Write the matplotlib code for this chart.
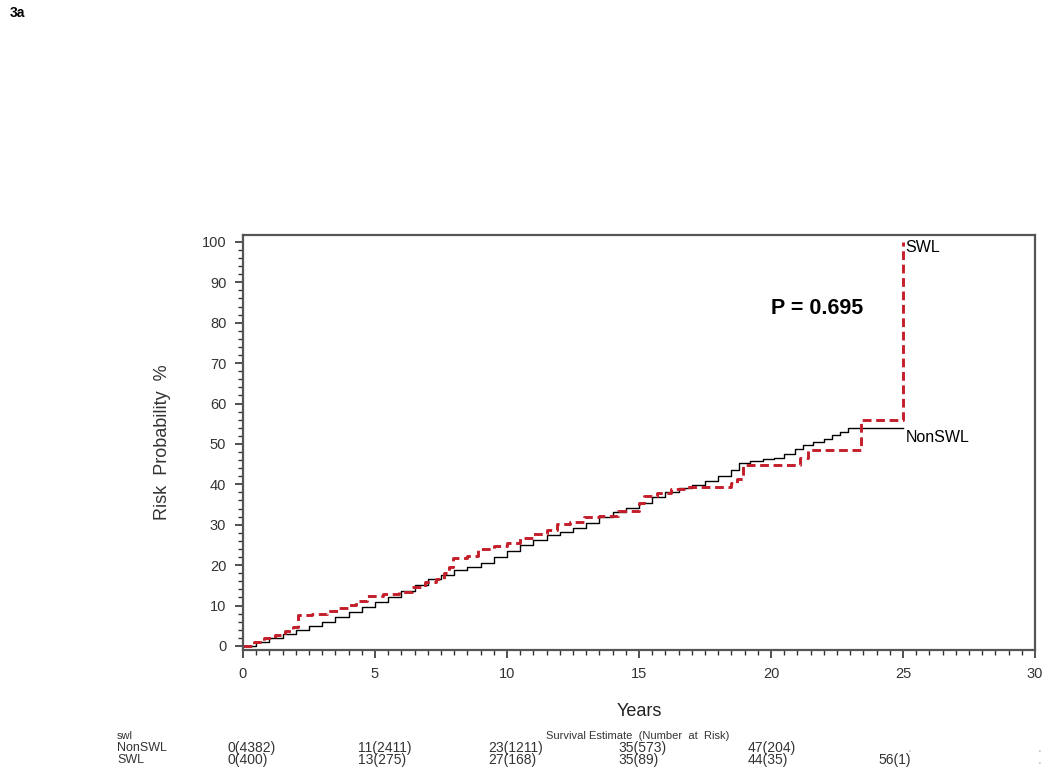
import matplotlib.pyplot as plt
import numpy as np
from matplotlib.ticker import MultipleLocator

plt.rcParams['font.family'] = ['Liberation Sans', 'DejaVu Sans']

# cumulative risk (%)
nonswl_t = [0, 0.5, 1.0, 1.5, 2.0, 2.5, 3.0, 3.5, 4.0, 4.5, 5.0, 5.5, 6.0, 6.5, 7.0, 7.5,
            8.0, 8.5, 9.0, 9.5, 10.0, 10.5, 11.0, 11.5, 12.0, 12.5, 13.0, 13.5, 14.0,
            14.5, 15.0, 15.5, 16.0, 16.5, 17.0, 17.5, 18.0, 18.5, 18.8, 19.2, 19.7,
            20.1, 20.5, 20.9, 21.2, 21.6, 22.0, 22.3, 22.6, 22.9, 25]
nonswl_r = [0, 1.0, 2.0, 3.0, 4.0, 4.9, 6.0, 7.2, 8.4, 9.6, 11.0, 12.0, 13.5, 15.2, 16.5,
            17.5, 18.8, 19.5, 20.5, 22.0, 23.5, 25.0, 26.3, 27.4, 28.2, 29.3, 30.5, 31.8,
            33.2, 34.2, 35.3, 36.8, 38.2, 39.0, 39.8, 40.8, 42.0, 43.5, 45.2, 45.8, 46.2,
            46.6, 47.5, 48.7, 49.8, 50.5, 51.3, 52.2, 53.0, 54.0, 54.0]

swl_t = [0, 0.4, 0.8, 1.2, 1.6, 1.9, 2.1, 2.6, 3.2, 3.6, 4.0, 4.3, 4.7, 5.3, 5.9, 6.4,
         6.9, 7.3, 7.6, 7.8, 7.96, 8.5, 8.9, 9.5, 10.0, 10.5, 11.0, 11.5, 11.9, 12.4,
         12.9, 13.5, 14.2, 15.0, 15.2, 15.7, 16.2, 16.7, 18.2, 18.5, 18.7, 18.94, 20.8,
         21.1, 21.4, 23.4, 25]
swl_r = [0, 1.0, 2.0, 2.8, 3.6, 4.7, 7.6, 8.0, 8.6, 9.4, 10.2, 11.2, 12.4, 12.8, 13.4,
         14.6, 15.8, 16.5, 18.0, 19.5, 21.8, 22.2, 24.0, 24.8, 25.6, 26.6, 27.6, 28.8,
         30.2, 30.8, 31.8, 32.2, 33.4, 35.5, 37.0, 37.8, 38.8, 39.4, 39.4, 40.3, 41.2,
         44.8, 44.8, 46.5, 48.5, 56.0, 100]

# number at risk table
table_groups = ['NonSWL', 'SWL']
nonswl_table = ['0(4382)', '11(2411)', '23(1211)', '35(573)', '47(204)', '.', '.']
swl_table = ['0(400)', '13(275)', '27(168)', '35(89)', '44(35)', '56(1)', '.']

fig = plt.figure(figsize=(10.5, 7.79), dpi=100)
ax = fig.add_axes([0.2314, 0.1656, 0.7543, 0.5327])

ax.plot(nonswl_t, nonswl_r, drawstyle='steps-post', color='black', lw=1.0)
ax.plot(swl_t, swl_r, drawstyle='steps-post', color='#c41e2a', lw=2.1,
        dashes=(3, 1.6))

ax.set_xlim(0, 30)
ax.set_ylim(-1, 101.7)
ax.xaxis.set_major_locator(MultipleLocator(5))
ax.xaxis.set_minor_locator(MultipleLocator(0.5))
ax.yaxis.set_major_locator(MultipleLocator(10))
ax.yaxis.set_minor_locator(MultipleLocator(2))
ax.tick_params(which='major', direction='out', length=6, width=1.2, color='#333333',
               labelsize=10.5, labelcolor='#333333', pad=6)
ax.tick_params(which='minor', direction='out', length=3.5, width=1.0, color='#333333')
for s in ax.spines.values():
    s.set_color('#555555')
    s.set_linewidth(1.6)

ax.set_xlabel('Years', fontsize=13, color='#222222', labelpad=16)
ax.set_ylabel('Risk  Probability  %', fontsize=13, color='#333333', labelpad=22)

ax.text(25.1, 98.5, 'SWL', fontsize=11.5, ha='left', va='center')
ax.text(25.1, 51.5, 'NonSWL', fontsize=11.5, ha='left', va='center')
ax.text(20.0, 83.5, 'P = 0.695', fontsize=15.5, ha='left', va='center', fontweight='bold')

fig.text(10 / 1050, 1 - 13 / 779, '3a', fontsize=10, fontweight='bold', va='center')

# risk table below the axes
fig.text(117 / 1050, 1 - 736 / 779, 'swl', fontsize=8, va='center', color='#333333')
fig.text(638 / 1050, 1 - 736 / 779, 'Survival Estimate  (Number  at  Risk)', fontsize=8,
         ha='center', va='center', color='#333333')
for row, (grp, vals) in enumerate(zip(table_groups, [nonswl_table, swl_table])):
    ypix = 748 + 12 * row
    fig.text(117 / 1050, 1 - ypix / 779, grp, fontsize=9, va='center', color='#333333')
    for i, v in enumerate(vals):
        xpix = 228 + 130 * i if v != '.' else 258 + 130 * i
        fig.text(xpix / 1050, 1 - ypix / 779, v, fontsize=10, va='center',
                 color='#333333' if v != '.' else '#bbbbbb')

fig.savefig('out.png', dpi=100)
